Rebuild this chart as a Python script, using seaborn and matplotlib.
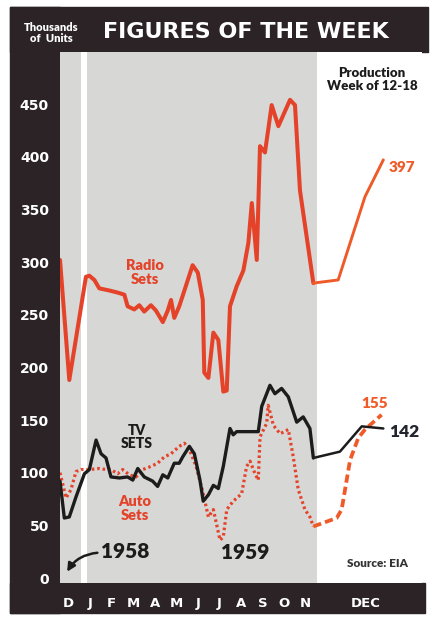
import numpy as np
import pandas as pd
import matplotlib.pyplot as plt
from matplotlib.patches import Rectangle
import seaborn as sns

# x = months counted from start of Dec 1958 (Dec 1959 is drawn stretched after 12)
radio_x = [0.12, 0.55, 1.32, 1.48, 1.71, 1.94, 2.40, 2.79, 3.10, 3.25, 3.56, 3.79, 4.02,
           4.33, 4.56, 4.88, 5.11, 5.26, 5.41, 5.64, 5.88, 6.26, 6.50, 6.73, 6.80, 6.99,
           7.22, 7.45, 7.68, 7.84, 7.99, 8.30, 8.61, 8.84, 9.00, 9.23, 9.38, 9.61, 9.92,
           10.23, 10.77, 11.00, 11.23, 11.85, 13.00, 14.24, 15.09]
radio_y = [302, 188, 286, 287, 283, 275, 273, 271, 269, 258, 255, 259, 253,
           259, 254, 243, 254, 264, 247, 258, 273, 297, 290, 264, 195, 190,
           233, 226, 177, 178, 258, 277, 292, 318, 356, 302, 410, 404, 449,
           429, 454, 449, 368, 280, 283, 362, 397]

tv_x = [0.12, 0.32, 0.55, 0.86, 1.25, 1.48, 1.79, 2.02, 2.25, 2.48, 2.87, 3.25, 3.49,
        3.72, 4.02, 4.41, 4.64, 4.88, 5.11, 5.41, 5.64, 5.80, 6.11, 6.34, 6.60, 6.75,
        6.99, 7.22, 7.45, 7.68, 7.99, 8.14, 8.30, 9.30, 9.46, 9.84, 10.07, 10.38, 10.69,
        11.08, 11.38, 11.69, 11.85, 13.08, 14.09, 15.09]
tv_y = [92, 57, 58, 77, 99, 103, 131, 118, 114, 96, 95, 96, 93,
        104, 96, 92, 87, 98, 95, 109, 109, 115, 125, 118, 93, 73,
        79, 88, 85, 106, 142, 136, 139, 139, 163, 183, 175, 180, 172,
        148, 153, 142, 114, 120, 144, 142]

auto_x = [0.12, 0.40, 0.63, 0.86, 1.09, 1.48, 1.94, 2.25, 2.48, 2.79, 3.02, 3.33, 3.64,
          3.95, 4.33, 4.64, 4.95, 5.26, 5.64, 5.88, 6.11, 6.42, 6.73, 6.99, 7.22, 7.53,
          7.68, 7.84, 8.14, 8.53, 8.76, 8.92, 9.15, 9.30, 9.38, 9.69, 9.76, 10.00, 10.31,
          10.69, 10.92, 11.15, 11.46, 11.69, 11.85, 12.93, 13.16, 13.55, 13.93, 14.24, 15.01]
auto_y = [100, 76, 84, 101, 103, 103, 104, 103, 103, 99, 103, 98, 96,
          103, 106, 109, 115, 118, 125, 128, 122, 106, 82, 58, 65, 36,
          39, 65, 73, 80, 106, 111, 99, 93, 134, 147, 164, 145, 137,
          141, 115, 84, 65, 58, 49, 57, 65, 112, 133, 141, 155]

month_labels = ['D', 'J', 'F', 'M', 'A', 'M', 'J', 'J', 'A', 'S', 'O', 'N']
dec_label = 'DEC'
month_ticks = list(range(1, 13))
dec_week_ticks = [13.22, 14.44, 15.66]
y_ticks = list(range(0, 451, 50))
split_at = 11.85

sns.set_style('white')
plt.rcParams['font.family'] = ['Lato', 'DejaVu Sans']
plt.rcParams['font.weight'] = 'heavy'

red = '#e4432a'
orange = '#ee5b28'
dark = '#2b2325'
gray = '#d7d7d5'
ink = '#1c1c1c'
bold_font = ['DejaVu Sans']

W, H = 432, 617
fig = plt.figure(figsize=(W / 100, H / 100), dpi=100)
ax = fig.add_axes([60 / W, (H - 583) / H, 362 / W, 531 / H])

# dark frame (header, left strip, bottom strip)
for x0, y0, x1, y1 in [(10, 7, 428, 52), (10, 7, 60, 613), (10, 583, 425, 613)]:
    fig.add_artist(Rectangle((x0 / W, 1 - y1 / H), (x1 - x0) / W, (y1 - y0) / H,
                             transform=fig.transFigure, color=dark, zorder=-1))

ax.set_xlim(0.12, 16.88)
ax.set_ylim(-4.7, 499.4)
ax.set_facecolor('white')
ax.axvspan(0.12, 12.0, color=gray, lw=0, zorder=0)
ax.axvspan(1.10, 1.37, color='white', lw=0, zorder=0)
for s in ax.spines.values():
    s.set_visible(False)


def part(xs, ys, late):
    d = pd.DataFrame({'x': xs, 'y': ys})
    return d[d.x >= split_at] if late else d[d.x <= split_at]


sns.lineplot(data=part(radio_x, radio_y, False), x='x', y='y', sort=False, ax=ax,
             color=red, lw=2.9, zorder=3)
sns.lineplot(data=part(radio_x, radio_y, True), x='x', y='y', sort=False, ax=ax,
             color=orange, lw=2.1, zorder=3)
sns.lineplot(data=part(auto_x, auto_y, False), x='x', y='y', sort=False, ax=ax,
             color=red, lw=2.3, linestyle=(0, (0.8, 0.9)), zorder=3)
sns.lineplot(data=part(auto_x, auto_y, True), x='x', y='y', sort=False, ax=ax,
             color=orange, lw=2.7, linestyle=(0, (2.2, 1.1)), zorder=3)
sns.lineplot(data=part(tv_x, tv_y, False), x='x', y='y', sort=False, ax=ax,
             color=ink, lw=2.4, zorder=4)
sns.lineplot(data=part(tv_x, tv_y, True), x='x', y='y', sort=False, ax=ax,
             color=ink, lw=1.8, zorder=4)

ax.set_xlabel('')
ax.set_ylabel('')
ax.set_yticks(y_ticks)
ax.set_yticklabels([str(v) for v in y_ticks], family=bold_font, fontweight='bold')
ax.tick_params(axis='y', direction='in', length=8.5, width=1.2, color='#3a3a3a',
               pad=8, labelcolor='white', labelsize=10)
ax.set_xticks(month_ticks + dec_week_ticks)
ax.set_xticklabels([])
ax.set_xticks([m + 0.5 for m in range(12)] + [14.29], minor=True)
ax.set_xticklabels(month_labels + [dec_label], minor=True, family=bold_font,
                   fontweight='bold')
ax.tick_params(axis='x', which='major', direction='in', length=7, width=1.2,
               color='#3a3a3a')
ax.tick_params(axis='x', which='minor', length=0, pad=10, labelcolor='white',
               labelsize=9.5)

# labels inside the chart
ax.text(4.06, 290, 'Radio\nSets', color=red, ha='center', va='center', fontsize=10.5,
        linespacing=1.05)
ax.text(3.68, 134, 'TV\nSETS', color=ink, ha='center', va='center', fontsize=10,
        linespacing=1.05)
ax.text(3.59, 66, 'Auto\nSets', color=red, ha='center', va='center', fontsize=10.5,
        linespacing=1.05)
ax.annotate('', xy=(0.45, 6), xytext=(1.85, 24),
            arrowprops=dict(arrowstyle='-|>', color=ink, lw=1.8, mutation_scale=12,
                            connectionstyle='arc3,rad=0.25', shrinkA=0, shrinkB=0))
ax.text(3.13, 25, '1958', color=ink, ha='center', va='center', fontsize=15)
ax.text(8.69, 24, '1959', color=ink, ha='center', va='center', fontsize=15)
ax.text(14.8, 14, 'Source: EIA', color='#333333', ha='center', va='center', fontsize=8.5)
ax.text(14.56, 473, 'Production\nWeek of 12-18', color=ink, ha='center', va='center',
        fontsize=9.5, linespacing=1.1)
ax.text(15.35, 390, '397', color=orange, ha='left', va='center', fontsize=11)
ax.text(14.7, 166, '155', color=orange, ha='center', va='center', fontsize=11)
ax.text(15.35, 139, '142', color='#22252d', ha='left', va='center', fontsize=12.5)

# header
fig.text(246 / W, 1 - 32 / H, 'FIGURES OF THE WEEK', color='white', ha='center',
         va='center', fontsize=16, family=bold_font, fontweight='bold')
fig.text(51 / W, 1 - 33 / H, 'Thousands\nof  Units', color='white', ha='center',
         va='center', fontsize=8, linespacing=1.1)

fig.savefig('out.png', dpi=100)
